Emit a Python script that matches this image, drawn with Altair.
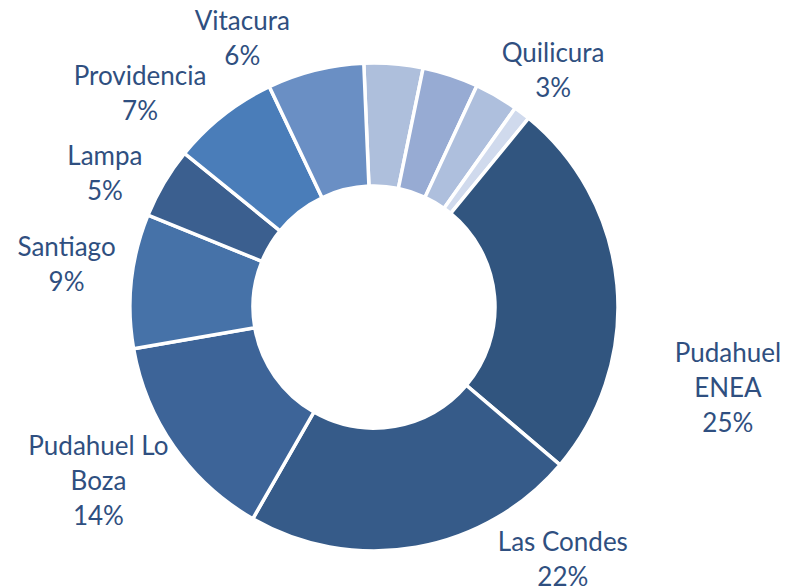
import math
import altair as alt
import pandas as pd

# Slice data (clockwise, starting just left of 12 o'clock)
comunas = ["Otra A", "Otra B", "Quilicura", "Otra C", "Pudahuel ENEA", "Las Condes",
           "Pudahuel Lo Boza", "Santiago", "Lampa", "Providencia", "Vitacura"]
valores = [3.9, 3.7, 2.9, 1.1, 25.3, 22.1, 14.0, 8.9, 4.7, 7.1, 6.4]
colores = ["#AEBFDC", "#97ABD3", "#AEBFDD", "#D0DAED", "#31557F", "#365B89",
           "#3D6498", "#4672A8", "#3B5F8F", "#4A7DB9", "#6A8FC4"]

# Labels
etiquetas = ["Vitacura\n6%", "Quilicura\n3%", "Providencia\n7%", "Lampa\n5%",
             "Santiago\n9%", "Pudahuel Lo\nBoza\n14%", "Las Condes\n22%",
             "Pudahuel\nENEA\n25%"]
# label placement of first line (angle in degrees clockwise from 12 o'clock, distance from centre in px)
etiqueta_angulo = [335.2, 35.3, 314.5, 299.1, 280.8, 243.1, 141.3, 97.6]
etiqueta_radio = [314, 310, 328, 308, 313, 309, 302, 357]

df = pd.DataFrame({"comuna": comunas, "valor": valores, "orden": list(range(len(comunas)))})
lab = pd.DataFrame({"texto": etiquetas, "ang": etiqueta_angulo, "rad": etiqueta_radio})

CX, CY = 366, 297
start = math.radians(-2.4)

arcs = alt.Chart(df).mark_arc(
    outerRadius=244, innerRadius=121, stroke="white", strokeWidth=3.5
).encode(
    theta=alt.Theta("valor:Q", stack=True, scale=alt.Scale(range=[start, start + 2 * math.pi])),
    order=alt.Order("orden:Q"),
    color=alt.Color("comuna:N", scale=alt.Scale(domain=comunas, range=colores), legend=None),
    x=alt.value(CX),
    y=alt.value(CY),
)

texts = alt.Chart(lab).mark_text(
    font="Lato", fontSize=26, color="#2F4F80", lineBreak="\n", lineHeight=35,
    align="center", baseline="middle"
).encode(
    theta=alt.Theta("ang:Q", stack=None, scale=alt.Scale(domain=[0, 360], range=[0, 2 * math.pi])),
    radius=alt.Radius("rad:Q", scale=alt.Scale(type="linear", domain=[0, 400], range=[0, 400], zero=True)),
    text="texto:N",
    x=alt.value(CX),
    y=alt.value(CY),
)

chart = alt.layer(arcs, texts).resolve_scale(theta="independent").properties(
    width=774, height=572, padding=0
).configure_view(stroke=None)

chart.save("out.html", embed_options={"renderer": "svg", "actions": False})
